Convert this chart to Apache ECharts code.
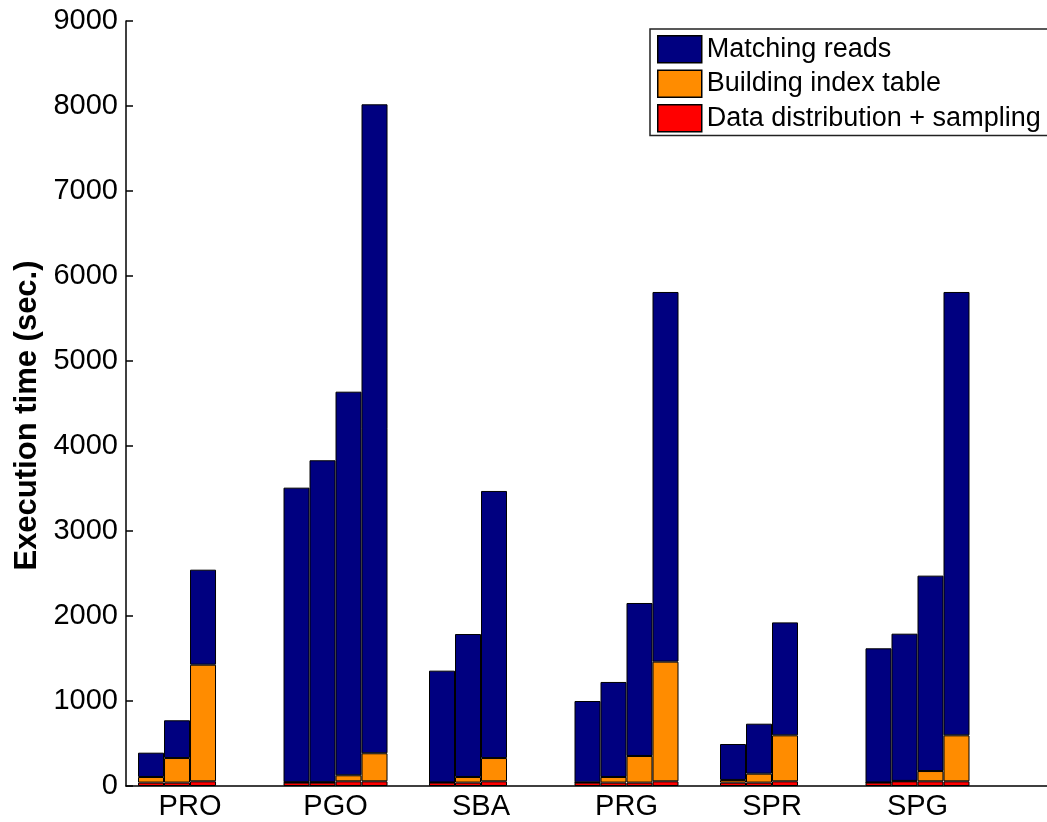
<!DOCTYPE html>
<html>
<head>
<meta charset="utf-8">
<script src="https://cdn.jsdelivr.net/npm/echarts@6/dist/echarts.min.js"></script>
<style>
  html, body { margin: 0; padding: 0; background: #fff; }
  #chart { width: 1047px; height: 822px; }
</style>
</head>
<body>
<div id="chart"></div>
<script>
// groups on the x axis, each with 3 or 4 runs
var groups = ['PRO', 'PGO', 'SBA', 'PRG', 'SPR', 'SPG'];

// seconds per part, one inner array per group (bottom -> top of the stack)
var dataDist = [
  [40, 40, 55],
  [40, 40, 55, 55],
  [40, 40, 55],
  [40, 40, 40, 55],
  [40, 40, 55],
  [40, 55, 55, 55]
];
var indexBuild = [
  [66, 289, 1372],
  [5, 5, 71, 330],
  [2, 66, 274],
  [3, 66, 313, 1408],
  [31, 105, 541],
  [2, 5, 121, 541]
];
var matching = [
  [286, 444, 1118],
  [3465, 3787, 4513, 7635],
  [1315, 1682, 3142],
  [957, 1118, 1800, 4349],
  [423, 588, 1329],
  [1578, 1732, 2299, 5216]
];

var legendNames = ['Matching reads', 'Building index table', 'Data distribution + sampling'];

var fontFamily = '"Liberation Sans", Arial, Helvetica, sans-serif';

var parts = [
  { name: 'Data distribution + sampling', values: dataDist, color: '#ff0000' },
  { name: 'Building index table', values: indexBuild, color: '#ff8c00' },
  { name: 'Matching reads', values: matching, color: '#000080' }
];

var series = [];
for (var slot = 0; slot < 4; slot++) {
  parts.forEach(function (part) {
    series.push({
      type: 'bar',
      name: part.name,
      stack: 'run' + slot,
      barWidth: 26,
      barGap: '0%',
      // value first so the stack goes on y
      encode: { x: 1, y: 0 },
      itemStyle: { color: part.color, borderColor: '#000', borderWidth: 1 },
      data: groups.map(function (g, i) {
        var v = part.values[i][slot];
        return [v == null ? '-' : v, i + 1];
      })
    });
  });
}

var myChart = echarts.init(document.getElementById('chart'));
var option = {
  animation: false,
  backgroundColor: '#fff',
  textStyle: { fontFamily: fontFamily, color: '#000' },
  grid: { left: 126, right: 0, top: 21, bottom: 36, containLabel: false },
  legend: {
    orient: 'vertical',
    left: 650,
    top: 29,
    padding: [6, 8, 3, 7],
    itemWidth: 44,
    itemHeight: 27,
    itemGap: 6,
    icon: 'rect',
    borderColor: '#222',
    borderWidth: 1.5,
    backgroundColor: '#fff',
    data: legendNames,
    itemStyle: { borderWidth: 1.5 },
    textStyle: { fontSize: 27, lineHeight: 27, color: '#000', fontFamily: fontFamily }
  },
  xAxis: {
    type: 'value',
    min: 0.56,
    max: 6.89,
    splitLine: { show: false },
    axisTick: { show: false },
    axisLine: { lineStyle: { color: '#000', width: 1.5 } },
    axisLabel: {
      customValues: [1, 2, 3, 4, 5, 6],
      formatter: function (v) { return groups[Math.round(v) - 1] || ''; },
      fontSize: 29,
      color: '#000',
      margin: 6,
      fontFamily: fontFamily
    }
  },
  yAxis: {
    type: 'value',
    min: 0,
    max: 9000,
    interval: 1000,
    name: 'Execution time (sec.)',
    nameLocation: 'middle',
    nameGap: 80,
    nameTextStyle: {
      fontSize: 31, fontWeight: 'bold', color: '#000', fontFamily: fontFamily,
      padding: [0, 24, 0, 0]
    },
    splitLine: { show: false },
    axisLine: { show: true, lineStyle: { color: '#000', width: 1.5 } },
    axisTick: { show: true, inside: true, length: 7, lineStyle: { color: '#000', width: 1.5 } },
    axisLabel: {
      fontSize: 29, color: '#000', margin: 8, fontFamily: fontFamily,
      formatter: function (v) { return String(v); }
    }
  },
  series: series
};
myChart.setOption(option);
</script>
</body>
</html>
